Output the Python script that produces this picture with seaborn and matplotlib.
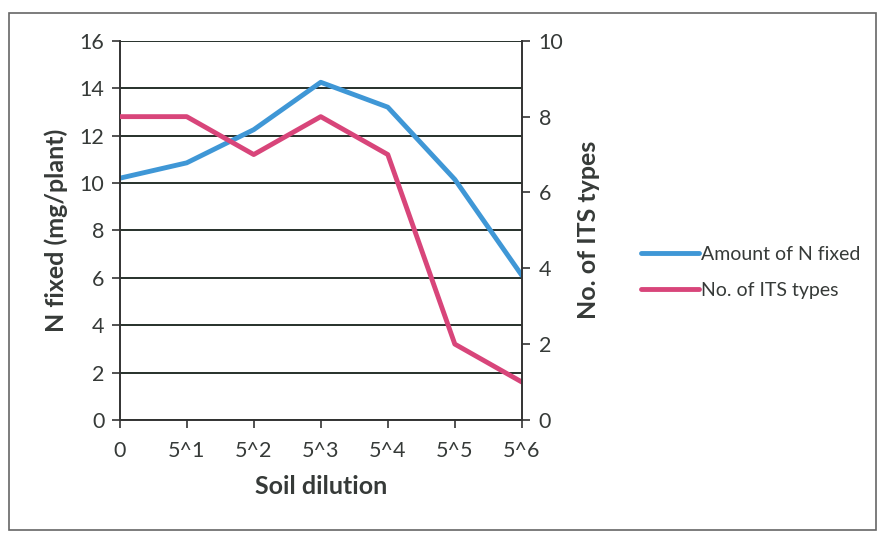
import matplotlib
matplotlib.use("Agg")
import matplotlib.pyplot as plt
import seaborn as sns
import pandas as pd
from matplotlib.patches import Rectangle
from matplotlib.lines import Line2D

dilutions = ["0", "5^1", "5^2", "5^3", "5^4", "5^5", "5^6"]
n_fixed = [10.2, 10.85, 12.25, 14.25, 13.2, 10.15, 6.1]
its_types = [8, 8, 7, 8, 7, 2, 1]

sns.set_theme(style="white")
plt.rcParams["font.family"] = ["Lato", "DejaVu Sans"]

txt = "#363a38"
blue = "#3f97d6"
pink = "#d8457a"

df = pd.DataFrame({"x": range(len(dilutions)), "n": n_fixed, "its": its_types})

fig = plt.figure(figsize=(8.8, 5.37), dpi=100)
ax = fig.add_axes([0.136, 0.218, 0.457, 0.706])
ax2 = ax.twinx()

sns.lineplot(data=df, x="x", y="n", ax=ax, color=blue, linewidth=3.5, legend=False)
sns.lineplot(data=df, x="x", y="its", ax=ax2, color=pink, linewidth=3.5, legend=False)

ax.set_xlim(0, 6)
ax.set_ylim(0, 16)
ax.set_yticks(range(0, 17, 2))
ax2.set_ylim(0, 10)
ax2.set_yticks(range(0, 11, 2))
ax.set_xticks(range(len(dilutions)))
ax.set_xticklabels(dilutions)

ax.grid(axis="y", color="#26302a", linewidth=1.4)
ax.set_axisbelow(True)
for a in (ax, ax2):
    for s in a.spines.values():
        s.set_visible(False)
    a.spines["left"].set_visible(a is ax)
    a.spines["right"].set_visible(a is ax2)
    a.spines["bottom"].set_visible(a is ax)
for s in (ax.spines["left"], ax.spines["bottom"], ax2.spines["right"]):
    s.set_color("#333333")
    s.set_linewidth(1.4)

ax.tick_params(axis="both", direction="out", length=6, width=1.2, colors="#333333",
               labelcolor=txt, labelsize=15.5, left=True, bottom=True, pad=5)
ax2.tick_params(axis="y", direction="out", length=6, width=1.2, colors="#333333",
                labelcolor=txt, labelsize=15.5, right=True, pad=6)
ax.tick_params(axis="x", pad=9)

ax.set_xlabel("Soil dilution", fontsize=18, fontweight="bold", color=txt, labelpad=10)
ax.set_ylabel("N fixed (mg/plant)", fontsize=18, fontweight="bold", color=txt, labelpad=8)
ax2.set_ylabel("No. of ITS types", fontsize=18, fontweight="bold", color=txt, labelpad=10)

handles = [Line2D([0], [0], color=blue, lw=3.5), Line2D([0], [0], color=pink, lw=3.5)]
fig.legend(handles, ["Amount of N fixed", "No. of ITS types"], loc="center left",
           bbox_to_anchor=(0.708, 0.493), frameon=False, fontsize=14,
           labelcolor=txt, handlelength=3.0, handletextpad=0.1, labelspacing=1.0)

fig.patches.append(Rectangle((0.01, 0.013), 0.985, 0.962, transform=fig.transFigure,
                             fill=False, edgecolor="#666666", linewidth=1.2))

fig.savefig("out.png", dpi=100)
